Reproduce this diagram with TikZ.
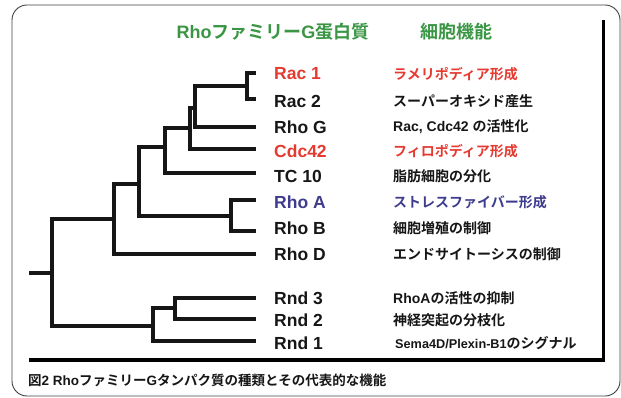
\documentclass[tikz,border=0pt]{standalone}
\usepackage{fontspec}
\setmainfont{Liberation Sans}[BoldFont={Liberation Sans Bold}]
\newfontfamily\jp{Noto Sans CJK JP}[BoldFont={Noto Sans CJK JP Bold}]
\newcommand\J[1]{{\jp\bfseries #1}}
\definecolor{rred}{RGB}{228,58,48}
\definecolor{rblue}{RGB}{62,60,140}
\definecolor{rgreen}{RGB}{58,150,68}
\definecolor{ink}{RGB}{22,22,22}
\begin{document}
\begin{tikzpicture}[x=1pt,y=-1pt,
  tree/.style={line width=3.2pt,ink,line join=miter},
  gname/.style={anchor=west,inner sep=0pt,font=\bfseries\fontsize{17.5}{18}\selectfont,text=ink},
  func/.style={anchor=west,inner sep=0pt,font=\bfseries\fontsize{14}{15}\selectfont,text=ink},
  head/.style={inner sep=0pt,font=\bfseries\fontsize{18}{19}\selectfont,text=rgreen}]
\useasboundingbox (0,0) rectangle (621,398);
% outer frame
\draw[line width=0.9pt,black!75,rounded corners=15pt] (12,5) rectangle (620,396);
% panel borders
\coordinate (pTR) at (603,20);
\coordinate (pBR) at (603,360);
\coordinate (pBL) at (29,360);
\draw[line width=3pt,black] (pTR) -- (pBR);
\draw[line width=4.5pt,black] (pBL) -- ([xshift=1.5pt]pBR);
% headings
\node[head] (h1) at (273,32) {Rho\J{ファミリー}G\J{蛋白質}};
\node[head] (h2) at (456,32) {\J{細胞機能}};
% leaf ends
\coordinate (e1) at (256,73);
\coordinate (e2) at (256,99);
\coordinate (e3) at (256,127);
\coordinate (e4) at (256,149);
\coordinate (e5) at (256,173);
\coordinate (e6) at (256,200);
\coordinate (e7) at (256,231);
\coordinate (e8) at (256,254);
\coordinate (e9) at (256,298);
\coordinate (e10) at (256,319);
\coordinate (e11) at (256,341);
% internal nodes
\coordinate (nRac) at (247,86);
\coordinate (nRG) at (195,108);
\coordinate (nRGC) at (190,128);
\coordinate (nRGCT) at (165,147);
\coordinate (nAB) at (231,216);
\coordinate (nX) at (139,184);
\coordinate (nY) at (114,219);
\coordinate (root) at (52,273);
\coordinate (rootL) at (29,273);
\coordinate (nRnd) at (153,326);
\coordinate (nR32) at (175,308);
% tree
\draw[tree] (nRac) |- (e1);
\draw[tree] (nRac) |- (e2);
\draw[tree] (nRG) |- (nRac);
\draw[tree] (nRG) |- (e3);
\draw[tree] (nRGC) |- (nRG);
\draw[tree] (nRGC) |- (e4);
\draw[tree] (nRGCT) |- (nRGC);
\draw[tree] (nRGCT) |- (e5);
\draw[tree] (nAB) |- (e6);
\draw[tree] (nAB) |- (e7);
\draw[tree] (nX) |- (nRGCT);
\draw[tree] (nX) |- (nAB);
\draw[tree] (nY) |- (nX);
\draw[tree] (nY) |- (e8);
\draw[tree] (root) |- (nY);
\draw[tree] (root) |- (nRnd);
\draw[tree] (rootL) -- (root);
\draw[tree] (nR32) |- (e9);
\draw[tree] (nR32) |- (e10);
\draw[tree] (nRnd) |- (nR32);
\draw[tree] (nRnd) |- (e11);
% names
\node[gname,text=rred] (g1) at (274,74) {Rac 1};
\node[gname] (g2) at (274,101) {Rac 2};
\node[gname] (g3) at (274,127) {Rho G};
\node[gname,text=rred] (g4) at (274,151) {Cdc42};
\node[gname] (g5) at (274,176) {TC 10};
\node[gname,text=rblue] (g6) at (274,202) {Rho A};
\node[gname] (g7) at (274,228) {Rho B};
\node[gname] (g8) at (274,254) {Rho D};
\node[gname] (g9) at (274,298) {Rnd 3};
\node[gname] (g10) at (274,320) {Rnd 2};
\node[gname] (g11) at (274,343) {Rnd 1};
% functions
\node[func,text=rred] (f1) at (393,74) {\J{ラメリポディア形成}};
\node[func] (f2) at (393,101) {\J{スーパーオキシド産生}};
\node[func] (f3) at (393,127) {Rac, Cdc42 \J{の活性化}};
\node[func,text=rred] (f4) at (393,151) {\J{フィロポディア形成}};
\node[func] (f5) at (393,176) {\J{脂肪細胞の分化}};
\node[func,text=rblue] (f6) at (393,202) {\J{ストレスファイバー形成}};
\node[func] (f7) at (393,228) {\J{細胞増殖の制御}};
\node[func] (f8) at (393,254) {\J{エンドサイトーシスの制御}};
\node[func] (f9) at (393,298) {RhoA\J{の活性の抑制}};
\node[func] (f10) at (393,320) {\J{神経突起の分枝化}};
\node[func] (f11) at (395,343) {{\fontsize{12.7}{15}\selectfont Sema4D/Plexin-B1}\J{のシグナル}};
% caption
\node[anchor=west,inner sep=0pt,font=\bfseries\fontsize{13.5}{14}\selectfont,text=ink] (cap) at (28,380) {\J{図}2 Rho\J{ファミリー}G\J{タンパク質の種類とその代表的な機能}};
\end{tikzpicture}
\end{document}
